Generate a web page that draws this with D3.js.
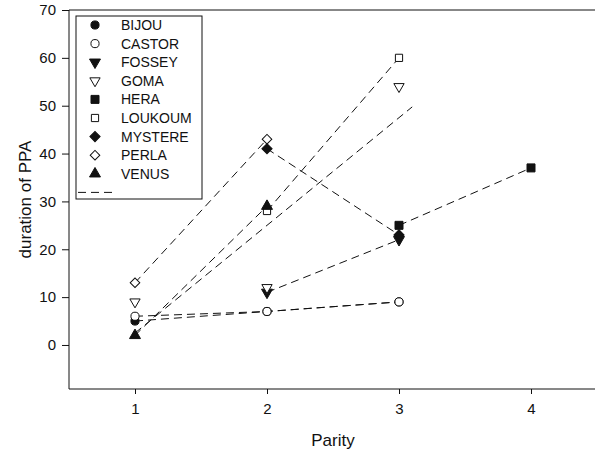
<!DOCTYPE html>
<html>
<head>
<meta charset="utf-8">
<script src="https://cdn.jsdelivr.net/npm/d3@7"></script>
<style>
  body { margin: 0; background: #fff; }
  text { font-family: "Liberation Sans", Arial, sans-serif; fill: #111; }
</style>
</head>
<body>
<div id="chart"></div>
<script>
// data: duration of PPA by parity (null = no point)
var parity = [1, 2, 3, 4];
var BIJOU   = [5, 7, 9, null];
var CASTOR  = [6, 7, 9, null];
var FOSSEY  = [null, 11, 22, null];
var GOMA    = [9, 12, 54, null];
var HERA    = [null, null, 25, 37];
var LOUKOUM = [null, 28, 60, null];
var MYSTERE = [null, 41, 23, null];
var PERLA   = [13, 43, null, null];
var VENUS   = [2, 29, null, null];

var names = ["BIJOU", "CASTOR", "FOSSEY", "GOMA", "HERA", "LOUKOUM", "MYSTERE", "PERLA", "VENUS"];
var values = [BIJOU, CASTOR, FOSSEY, GOMA, HERA, LOUKOUM, MYSTERE, PERLA, VENUS];
var yTicks = [0, 10, 20, 30, 40, 50, 60, 70];
var xTicks = [1, 2, 3, 4];
// GOMA gets a fitted line instead of joined points
var fitted = "GOMA";

var width = 595, height = 454;

var svg = d3.select("#chart")
    .append("svg")
    .attr("width", width)
    .attr("height", height);

var x = d3.scaleLinear().domain([0.5, 4.5]).range([69, 597]);
var y = d3.scaleLinear().domain([-9.2, 70]).range([389, 10]);

// symbol for each animal: shape, filled, rotation
var shapes = {
    BIJOU:   { type: d3.symbolCircle,   size: 52, fill: true,  rot: 0 },
    CASTOR:  { type: d3.symbolCircle,   size: 52, fill: false, rot: 0 },
    FOSSEY:  { type: d3.symbolTriangle, size: 52, fill: true,  rot: 180 },
    GOMA:    { type: d3.symbolTriangle, size: 46, fill: false, rot: 180 },
    HERA:    { type: d3.symbolSquare,   size: 64, fill: true,  rot: 0 },
    LOUKOUM: { type: d3.symbolSquare,   size: 52, fill: false, rot: 0 },
    MYSTERE: { type: d3.symbolSquare,   size: 52, fill: true,  rot: 45 },
    PERLA:   { type: d3.symbolSquare,   size: 46, fill: false, rot: 45 },
    VENUS:   { type: d3.symbolTriangle, size: 52, fill: true,  rot: 0 }
};

var series = names.map(function (n, i) {
    return {
        name: n,
        points: parity.map(function (p, j) { return { p: p, v: values[i][j] }; })
            .filter(function (d) { return d.v != null; })
    };
});

// axes frame
var yAxis = svg.append("g")
    .attr("transform", "translate(69,0)")
    .call(d3.axisLeft(y).tickValues(yTicks).tickSize(7).tickPadding(6));
yAxis.select(".domain").attr("d", "M0," + y.range()[0] + "V" + y.range()[1]);
yAxis.selectAll("text").style("font-size", "15px");

var xAxis = svg.append("g")
    .attr("transform", "translate(0,389)")
    .call(d3.axisBottom(x).tickValues(xTicks).tickFormat(d3.format("d")).tickSize(5).tickPadding(9));
xAxis.select(".domain").attr("d", "M69,0H595");
xAxis.selectAll("text").style("font-size", "15px");

svg.selectAll(".domain, .tick line").attr("stroke", "#111");

svg.append("line")
    .attr("x1", 69).attr("x2", 595)
    .attr("y1", y(70)).attr("y2", y(70))
    .attr("stroke", "#111");

// axis titles
svg.append("text")
    .attr("x", 333).attr("y", 446)
    .attr("text-anchor", "middle")
    .style("font-size", "17px")
    .text("Parity");

svg.append("text")
    .attr("transform", "translate(31," + ((y(70) + y.range()[0]) / 2) + ") rotate(-90)")
    .attr("text-anchor", "middle")
    .style("font-size", "17px")
    .text("duration of PPA");

var line = d3.line()
    .x(function (d) { return x(d.p); })
    .y(function (d) { return y(d.v); });

var dash = "8,5";

// joined lines
svg.selectAll("path.joined")
    .data(series.filter(function (s) { return s.name != fitted && s.points.length > 1; }))
    .enter()
    .append("path")
    .attr("class", "joined")
    .attr("d", function (s) { return line(s.points); })
    .attr("fill", "none")
    .attr("stroke", "#111")
    .attr("stroke-dasharray", dash);

// least squares line for GOMA
var g = series.find(function (s) { return s.name == fitted; }).points;
var mp = d3.mean(g, function (d) { return d.p; }), mv = d3.mean(g, function (d) { return d.v; });
var slope = d3.sum(g, function (d) { return (d.p - mp) * (d.v - mv); }) /
    d3.sum(g, function (d) { return (d.p - mp) * (d.p - mp); });
var ext = d3.extent(g, function (d) { return d.p; });
var pEnd = ext[1] + 0.05 * (ext[1] - ext[0]);
svg.append("path")
    .attr("d", line([ext[0], pEnd].map(function (p) { return { p: p, v: mv + slope * (p - mp) }; })))
    .attr("fill", "none")
    .attr("stroke", "#111")
    .attr("stroke-dasharray", dash);

function symbolPath(name) {
    var s = shapes[name];
    return d3.symbol().type(s.type).size(s.size)();
}

// points
series.forEach(function (s) {
    var sh = shapes[s.name];
    svg.selectAll(null)
        .data(s.points)
        .enter()
        .append("path")
        .attr("d", symbolPath(s.name))
        .attr("transform", function (d) { return "translate(" + x(d.p) + "," + y(d.v) + ") rotate(" + sh.rot + ")"; })
        .attr("fill", sh.fill ? "#111" : "#fff")
        .attr("stroke", "#111")
        .attr("stroke-width", 1);
});

// legend
var legend = svg.append("g");
legend.append("rect")
    .attr("x", 76).attr("y", 16)
    .attr("width", 126).attr("height", 183)
    .attr("fill", "#fff")
    .attr("stroke", "#111");

var rows = legend.selectAll("g.row")
    .data(names)
    .enter()
    .append("g")
    .attr("class", "row")
    .attr("transform", function (d, i) { return "translate(0," + (25 + i * 18.6) + ")"; });

rows.append("path")
    .attr("d", function (d) { return symbolPath(d); })
    .attr("transform", function (d) { return "translate(95,0) rotate(" + shapes[d].rot + ")"; })
    .attr("fill", function (d) { return shapes[d].fill ? "#111" : "#fff"; })
    .attr("stroke", "#111");

rows.append("text")
    .attr("x", 121)
    .attr("dy", "0.36em")
    .style("font-size", "14px")
    .text(function (d) { return d; });

legend.append("line")
    .attr("x1", 78).attr("x2", 114)
    .attr("y1", 25 + names.length * 18.6).attr("y2", 25 + names.length * 18.6)
    .attr("stroke", "#111")
    .attr("stroke-dasharray", dash);
</script>
</body>
</html>
